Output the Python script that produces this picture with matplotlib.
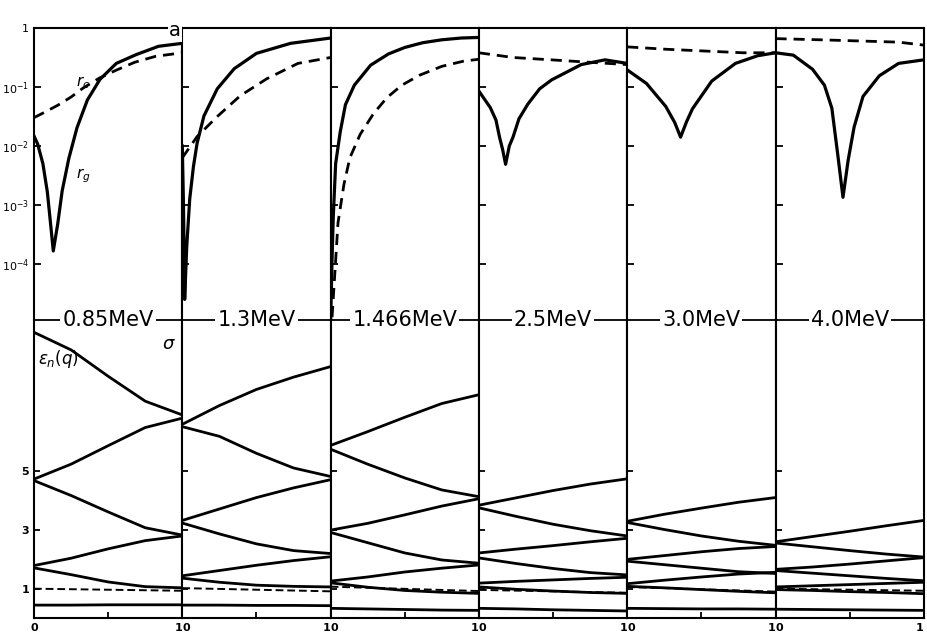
import numpy as np
import matplotlib
matplotlib.use("Agg")
import matplotlib.pyplot as plt
from matplotlib.lines import Line2D

energies = ["0.85MeV", "1.3MeV", "1.466MeV", "2.5MeV", "3.0MeV", "4.0MeV"]

# upper part: log10 of r_g (solid) and r_c (dashed) against q, one set per energy
rg_q_085 = [0, .025, .06, .09, .115, .13, .16, .19, .235, .29, .36, .445, .555, .69, .84, 1.0]
rg_085 = [-1.83, -1.97, -2.3, -2.78, -3.4, -3.78, -3.32, -2.76, -2.21, -1.69, -1.22, -0.87, -0.60, -0.45, -0.31, -0.26]
rc_q_085 = [0, .07, .16, .25, .33, .44, .55, .68, .82, 1.0]
rc_085 = [-1.52, -1.43, -1.31, -1.17, -1.02, -0.85, -0.72, -0.58, -0.48, -0.42]

rg_q_13 = [0, .008, .016, .03, .05, .075, .1, .146, .236, .35, .5, .73, 1.0]
rg_13 = [-2.0, -3.0, -4.6, -3.7, -2.9, -2.35, -1.95, -1.49, -1.03, -0.69, -0.43, -0.26, -0.17]
rc_q_13 = [0, .1, .236, .39, .57, .78, 1.0]
rc_13 = [-2.2, -1.84, -1.5, -1.15, -0.86, -0.6, -0.5]

rg_q_1466 = [0, .01, .018, .034, .065, .1, .16, .27, .39, .5, .62, .75, .88, 1.0]
rg_1466 = [-5.0, -3.9, -3.2, -2.3, -1.76, -1.3, -0.97, -0.63, -0.44, -0.33, -0.25, -0.2, -0.17, -0.16]
rc_q_1466 = [.01, .05, .09, .13, .2, .29, .38, .48, .6, .75, .9, 1.0]
rc_1466 = [-4.9, -3.3, -2.65, -2.2, -1.8, -1.45, -1.18, -0.97, -0.8, -0.65, -0.56, -0.53]

rg_q_25 = [0, .077, .115, .14, .16, .18, .205, .23, .27, .33, .41, .49, .69, .85, 1.0]
rg_25 = [-1.07, -1.35, -1.56, -1.86, -2.06, -2.31, -2.0, -1.85, -1.54, -1.29, -1.03, -0.88, -0.62, -0.54, -0.6]
rc_q_25 = [0, .23, .49, .74, 1.0]
rc_25 = [-0.42, -0.5, -0.54, -0.58, -0.62]

rg_q_30 = [0, .13, .26, .32, .36, .4, .44, .57, .73, .88, 1.0]
rg_30 = [-0.71, -0.94, -1.33, -1.6, -1.85, -1.59, -1.37, -0.9, -0.6, -0.47, -0.42]
rc_q_30 = [0, .26, .52, .78, 1.0]
rc_30 = [-0.32, -0.36, -0.39, -0.42, -0.42]

rg_q_40 = [0, .12, .25, .33, .38, .42, .455, .49, .53, .59, .7, .83, 1.0]
rg_40 = [-0.42, -0.46, -0.7, -0.97, -1.36, -2.15, -2.87, -2.24, -1.68, -1.16, -0.81, -0.6, -0.54]
rc_q_40 = [0, .3, .57, .83, 1.0]
rc_40 = [-0.18, -0.2, -0.22, -0.24, -0.29]

# lower part: bands eps_n(q) read at these q
band_q = [0, .25, .5, .75, 1.0]
bands_085 = [[9.75, 9.15, 8.25, 7.4, 6.93],
             [4.74, 5.25, 5.88, 6.5, 6.82],
             [4.69, 4.18, 3.62, 3.08, 2.83],
             [1.79, 2.04, 2.36, 2.64, 2.8],
             [1.71, 1.48, 1.23, 1.07, 1.03],
             [0.44, 0.44, 0.45, 0.45, 0.45]]
bands_13 = [[6.61, 7.25, 7.8, 8.22, 8.58],
            [6.53, 6.2, 5.62, 5.12, 4.83],
            [3.33, 3.72, 4.11, 4.44, 4.72],
            [3.24, 2.87, 2.53, 2.3, 2.2],
            [1.44, 1.62, 1.8, 1.96, 2.09],
            [1.36, 1.22, 1.12, 1.08, 1.06],
            [0.44, 0.44, 0.43, 0.43, 0.42]]
bands_1466 = [[5.89, 6.36, 6.85, 7.32, 7.62],
              [5.76, 5.25, 4.78, 4.37, 4.14],
              [3.0, 3.23, 3.52, 3.82, 4.07],
              [2.92, 2.57, 2.22, 1.98, 1.87],
              [1.26, 1.4, 1.57, 1.7, 1.81],
              [1.2, 1.05, 0.94, 0.88, 0.84],
              [0.33, 0.31, 0.29, 0.27, 0.26]]
bands_25 = [[3.85, 4.1, 4.35, 4.57, 4.75],
            [3.76, 3.47, 3.2, 2.98, 2.8],
            [2.22, 2.35, 2.47, 2.6, 2.72],
            [2.05, 1.86, 1.69, 1.55, 1.47],
            [1.19, 1.25, 1.3, 1.35, 1.39],
            [1.06, 0.98, 0.92, 0.87, 0.84],
            [0.33, 0.31, 0.28, 0.26, 0.24]]
bands_30 = [[3.3, 3.54, 3.75, 3.95, 4.11],
            [3.26, 3.02, 2.8, 2.62, 2.48],
            [2.0, 2.13, 2.26, 2.37, 2.44],
            [1.94, 1.82, 1.7, 1.58, 1.52],
            [1.17, 1.29, 1.4, 1.5, 1.56],
            [1.08, 1.03, 0.97, 0.91, 0.86],
            [0.33, 0.32, 0.31, 0.31, 0.3]]
bands_40 = [[2.6, 2.78, 2.96, 3.15, 3.33],
            [2.56, 2.43, 2.3, 2.18, 2.08],
            [1.66, 1.74, 1.84, 1.95, 2.06],
            [1.62, 1.53, 1.44, 1.35, 1.27],
            [1.06, 1.1, 1.14, 1.18, 1.22],
            [0.97, 0.94, 0.9, 0.87, 0.83],
            [0.3, 0.29, 0.28, 0.27, 0.26]]

# dashed level in the lower part (q=0 and q=1)
level_q = [0, 1.0]
level_085 = [1.0, 0.93]
level_13 = [1.02, 0.91]
level_1466 = [1.07, 0.92]
level_25 = [0.96, 0.86]
level_30 = [1.06, 0.9]
level_40 = [1.0, 0.93]

rg_all = [(rg_q_085, rg_085), (rg_q_13, rg_13), (rg_q_1466, rg_1466),
          (rg_q_25, rg_25), (rg_q_30, rg_30), (rg_q_40, rg_40)]
rc_all = [(rc_q_085, rc_085), (rc_q_13, rc_13), (rc_q_1466, rc_1466),
          (rc_q_25, rc_25), (rc_q_30, rc_30), (rc_q_40, rc_40)]
bands_all = [bands_085, bands_13, bands_1466, bands_25, bands_30, bands_40]
level_all = [level_085, level_13, level_1466, level_25, level_30, level_40]

plt.rcParams["font.family"] = "DejaVu Sans"

W, H = 927, 642
x0, pw = 34, 148.3
y_top, y_mid, y_bot = 28, 320, 618

def fx(px):
    return px / W

def fy(py):
    return 1 - py / H

fig = plt.figure(figsize=(9.27, 6.42), dpi=100)

for i in range(6):
    left = fx(x0 + i * pw)
    axt = fig.add_axes([left, fy(y_mid), pw / W, (y_mid - y_top) / H])
    axb = fig.add_axes([left, fy(y_bot), pw / W, (y_bot - y_mid) / H])

    # upper: r_g, r_c on log scale
    q, v = rg_all[i]
    axt.plot(q, 10 ** np.array(v), color="k", lw=2.3)
    q, v = rc_all[i]
    axt.plot(q, 10 ** np.array(v), color="k", lw=2.0, dashes=(4, 2.5))
    axt.set_yscale("log")
    axt.set_xlim(0, 1)
    axt.set_ylim(10 ** -4.95, 1)
    axt.spines["bottom"].set_visible(False)
    for s in ["left", "right", "top"]:
        axt.spines[s].set_linewidth(1.5)
    axt.set_xticks([])
    axt.yaxis.set_minor_locator(plt.NullLocator())
    axt.set_yticks([1, 1e-1, 1e-2, 1e-3, 1e-4])
    axt.tick_params(axis="y", direction="in", length=5, width=1.3, labelsize=8)
    if i == 0:
        axt.set_yticklabels(["1", "$10^{-1}$", "$10^{-2}$", "$10^{-3}$", "$10^{-4}$"])
    else:
        axt.set_yticklabels([])

    # lower: bands
    for b in bands_all[i]:
        axb.plot(band_q, b, color="k", lw=2.0)
    axb.plot(level_q, level_all[i], color="k", lw=1.4, dashes=(4, 2))
    axb.set_xlim(0, 1)
    axb.set_ylim(0, 10.17)
    axb.spines["top"].set_visible(False)
    for s in ["left", "right", "bottom"]:
        axb.spines[s].set_linewidth(1.5)
    axb.set_yticks([1, 3, 5])
    axb.tick_params(axis="both", direction="in", length=4, width=1.3, labelsize=8)
    if i == 0:
        axb.set_yticklabels(["1", "3", "5"], fontweight="bold")
    else:
        axb.set_yticklabels([])
    axb.set_xticks([0, 0.5, 1])
    axb.set_xticklabels(["0", "", "1"], fontweight="bold")
    labs = axb.get_xticklabels()
    if i > 0:
        labs[0].set_ha("left")
    labs[2].set_ha("right")

    if i == 0:
        axt.text(0.33, 10 ** -0.92, "$r_c$", fontsize=11, ha="center", va="center")
        axt.text(0.33, 10 ** -2.5, "$r_g$", fontsize=11, ha="center", va="center")
        axb.text(0.03, 0.87, r"$\varepsilon_n(q)$", fontsize=12, ha="left",
                 va="center", transform=axb.transAxes)
        axb.text(0.91, 0.92, r"$\sigma$", fontsize=13, ha="center",
                 va="center", transform=axb.transAxes)

# line through the energy labels
fig.add_artist(Line2D([fx(x0), fx(x0 + 6 * pw)], [fy(y_mid), fy(y_mid)],
                      color="k", lw=1.3))
for i, lab in enumerate(energies):
    fig.text(fx(x0 + (i + 0.5) * pw), fy(y_mid), lab, fontsize=15,
             ha="center", va="center",
             bbox=dict(facecolor="white", edgecolor="none", pad=1.5))

fig.text(fx(175), fy(31), "a", fontsize=14, ha="center", va="center",
         bbox=dict(facecolor="white", edgecolor="none", pad=1))

plt.savefig("out.png", dpi=100)
